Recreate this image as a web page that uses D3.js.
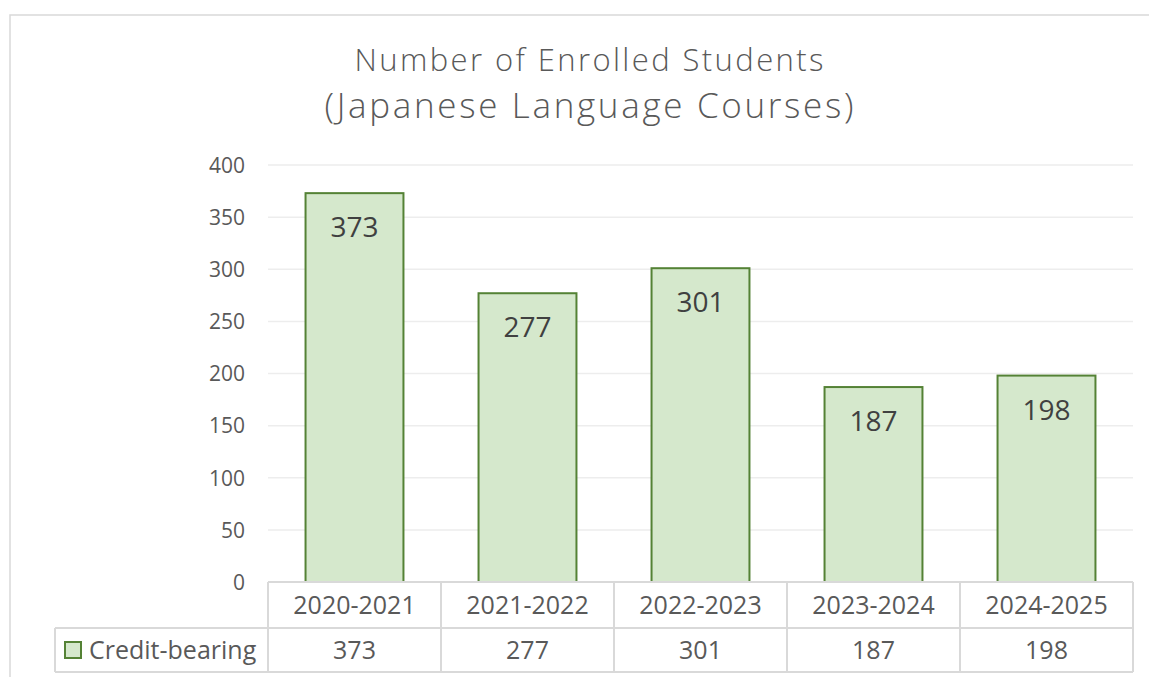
<!DOCTYPE html>
<html>
<head>
<meta charset="utf-8">
<script src="https://cdn.jsdelivr.net/npm/d3@7"></script>
<style>
  body { margin: 0; background: #fff; }
  text { font-family: "Open Sans", sans-serif; }
</style>
</head>
<body>
<div id="chart"></div>
<script>
// chart values
let titleLines = ["Number of Enrolled Students", "(Japanese Language Courses)"];
let categories = ["2020-2021", "2021-2022", "2022-2023", "2023-2024", "2024-2025"];
let seriesName = "Credit-bearing";
let values = [373, 277, 301, 187, 198];
let yTicks = [0, 50, 100, 150, 200, 250, 300, 350, 400];

let width = 1149,
	height = 677;

let plotLeft = 268, plotRight = 1133, plotTop = 165, plotBottom = 582;
let row1 = 628, row2 = 672, legendLeft = 55;

let grey = "#d9d9d9",
	textCol = "#595959",
	fill = "#d5e8cc",
	stroke = "#548235";

let svg = d3.select('#chart').append('svg')
	.attr('width', width)
	.attr('height', height);

// outer chart border (runs past the window on the right and bottom)
svg.append('rect')
	.attr('x', 10).attr('y', 15)
	.attr('width', width + 20).attr('height', height + 20)
	.attr('fill', 'none')
	.attr('stroke', grey)
	.attr('stroke-width', 1.5);

// title, second line is set a bit larger
let titleFmt = [
	{ y: 71, size: 31, len: 469 },
	{ y: 118, size: 35, len: 529 }
];
svg.selectAll('.title')
	.data(titleLines)
	.enter().append('text').classed('title', true)
	.attr('x', 589)
	.attr('y', function (d, i) { return titleFmt[i].y; })
	.attr('text-anchor', 'middle')
	.attr('font-size', function (d, i) { return titleFmt[i].size; })
	.attr('font-weight', 300)
	.attr('fill', textCol)
	.attr('textLength', function (d, i) { return titleFmt[i].len; })
	.attr('lengthAdjust', 'spacing')
	.text(function (d) { return d; });

// scales
let y = d3.scaleLinear()
	.domain([0, 400])
	.range([plotBottom, plotTop]);

let cell = d3.scaleBand()
	.domain(categories)
	.range([plotLeft, plotRight]);

let x = d3.scaleBand()
	.domain(categories)
	.range([plotLeft, plotRight])
	.paddingInner(0.434)
	.paddingOuter(0.217);

// gridlines
svg.append('g')
	.selectAll('line')
	.data(yTicks)
	.enter().append('line')
	.attr('x1', plotLeft).attr('x2', plotRight)
	.attr('y1', function (d) { return y(d); })
	.attr('y2', function (d) { return y(d); })
	.attr('stroke', '#ededed')
	.attr('stroke-width', 1.5);

// y axis labels
let yAxis = d3.axisLeft(y)
	.tickValues(yTicks)
	.tickSize(0)
	.tickPadding(0);

let yG = svg.append('g')
	.attr('transform', 'translate(245,0)')
	.call(yAxis);
yG.select('.domain').remove();
yG.selectAll('text')
	.attr('font-family', '"Open Sans", sans-serif')
	.attr('font-size', 21)
	.attr('fill', textCol)
	.attr('dy', '0.35em');

// bars
svg.selectAll('.bar')
	.data(values)
	.enter().append('rect').classed('bar', true)
	.attr('x', function (d, i) { return x(categories[i]); })
	.attr('width', x.bandwidth())
	.attr('y', function (d) { return y(d); })
	.attr('height', function (d) { return y(0) - y(d); })
	.attr('fill', fill)
	.attr('stroke', stroke)
	.attr('stroke-width', 2);

// data labels inside the bar tops
svg.selectAll('.lbl')
	.data(values)
	.enter().append('text').classed('lbl', true)
	.attr('x', function (d, i) { return x(categories[i]) + x.bandwidth() / 2; })
	.attr('y', function (d) { return y(d) + 44; })
	.attr('text-anchor', 'middle')
	.attr('font-size', 28)
	.attr('fill', '#404040')
	.text(function (d) { return d; });

// data table
let tbl = svg.append('g')
	.attr('stroke', grey)
	.attr('stroke-width', 2);

tbl.append('line').attr('x1', plotLeft).attr('x2', plotRight).attr('y1', plotBottom).attr('y2', plotBottom);
tbl.append('line').attr('x1', legendLeft).attr('x2', plotRight).attr('y1', row1).attr('y2', row1);
tbl.append('line').attr('x1', legendLeft).attr('x2', plotRight).attr('y1', row2).attr('y2', row2);
tbl.append('line').attr('x1', legendLeft).attr('x2', legendLeft).attr('y1', row1).attr('y2', row2);

let edges = categories.map(function (c) { return cell(c); }).concat([plotRight]);
tbl.selectAll('.vl')
	.data(edges)
	.enter().append('line').classed('vl', true)
	.attr('x1', function (d) { return d; })
	.attr('x2', function (d) { return d; })
	.attr('y1', plotBottom).attr('y2', row2);

svg.selectAll('.cat')
	.data(categories)
	.enter().append('text').classed('cat', true)
	.attr('x', function (d) { return cell(d) + cell.bandwidth() / 2; })
	.attr('y', 614)
	.attr('text-anchor', 'middle')
	.attr('font-size', 25)
	.attr('fill', textCol)
	.text(function (d) { return d; });

svg.selectAll('.val')
	.data(values)
	.enter().append('text').classed('val', true)
	.attr('x', function (d, i) { return cell(categories[i]) + cell.bandwidth() / 2; })
	.attr('y', 659)
	.attr('text-anchor', 'middle')
	.attr('font-size', 25)
	.attr('fill', textCol)
	.text(function (d) { return d; });

// legend key
svg.append('rect')
	.attr('x', 65).attr('y', 642)
	.attr('width', 16).attr('height', 16)
	.attr('fill', fill)
	.attr('stroke', stroke)
	.attr('stroke-width', 2);

svg.append('text')
	.attr('x', 89)
	.attr('y', 659)
	.attr('font-size', 25)
	.attr('fill', textCol)
	.text(seriesName);
</script>
</body>
</html>
